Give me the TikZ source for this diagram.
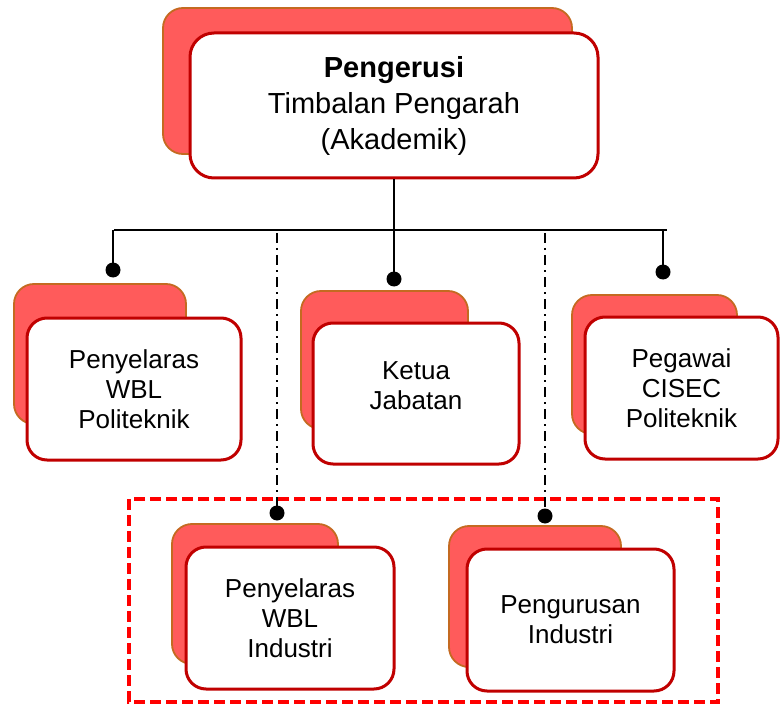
\documentclass[tikz,border=0pt]{standalone}
\usepackage{fontspec}
\setmainfont{Liberation Sans}
\usepackage{tikz}
\usetikzlibrary{positioning, calc}

\definecolor{backred}{HTML}{FF5B5B}
\definecolor{backedge}{HTML}{C46A21}
\definecolor{cardedge}{HTML}{C00000}
\definecolor{grpred}{HTML}{FF0000}

\begin{document}
\begin{tikzpicture}[
    x=1pt, y=-1pt,
    back/.style={draw=backedge, fill=backred, line width=1.8pt, rounded corners=20pt, inner sep=0pt},
    card/.style={draw=cardedge, fill=white, line width=3pt, rounded corners=20pt, inner sep=0pt, align=center, font=\fontsize{26}{30}\selectfont},
    blob/.style={circle, fill=black, inner sep=0pt, minimum size=15pt},
    link/.style={draw=black, line width=2.4pt},
    auxline/.style={draw=black, line width=2.4pt, dash pattern=on 10pt off 5pt on 2pt off 5pt},
    grp/.style={draw=grpred, line width=3.4pt, dash pattern=on 11pt off 5pt},
]
    \useasboundingbox (0,0) rectangle (780,706);

    % group of industry posts
    \draw[grp] (129,499) rectangle (718,702);

    % chairman
    \node[back, minimum width=409pt, minimum height=146pt] (topb) at (367.5,81) {};
    \node[card, rounded corners=24pt, minimum width=408pt, minimum height=145pt,
          font=\fontsize{29}{36}\selectfont] (top) at (394,105.5) {
        \textbf{Pengerusi}\\
        Timbalan Pengarah\\
        (Akademik)
    };

    % second row
    \node[back, minimum width=172pt, minimum height=140pt] (polb) at (100,354) {};
    \node[card, minimum width=214pt, minimum height=142pt] (pol) at (134,389) {
        Penyelaras\\ WBL\\ Politeknik
    };

    \node[back, minimum width=167pt, minimum height=138pt] (ketb) at (384.5,360) {};
    \node[card, minimum width=206pt, minimum height=141pt] (ket) at (416,393.5) {};
    \node[align=center, font=\fontsize{26}{30}\selectfont] (kettxt) at (416,386) {Ketua\\ Jabatan};

    \node[back, minimum width=165pt, minimum height=139pt] (cisb) at (654.5,364.5) {};
    \node[card, minimum width=193pt, minimum height=142pt] (cis) at (681.5,388) {
        Pegawai\\ CISEC\\ Politeknik
    };

    % industry row
    \node[back, minimum width=166pt, minimum height=140pt] (indb) at (255,594) {};
    \node[card, minimum width=208pt, minimum height=142pt] (ind) at (290,618) {
        Penyelaras\\ WBL\\ Industri
    };

    \node[back, minimum width=172pt, minimum height=141pt] (mgtb) at (535,596.5) {};
    \node[card, minimum width=207pt, minimum height=142pt] (mgt) at (570.5,620) {
        Pengurusan\\ Industri
    };

    % connectors
    \coordinate (hl) at (114,230);
    \coordinate (hr) at (667,230);
    \node[blob] (poldot) at (113,270) {};
    \node[blob] (ketdot) at (394,279) {};
    \node[blob] (cisdot) at (663,272) {};
    \node[blob] (inddot) at (277,513) {};
    \node[blob] (mgtdot) at (545,516) {};

    \draw[black, line width=1.8pt] (hl) -- (hr);
    \draw[link] (top.south -| ketdot) -- (ketdot.center);
    \draw[link] (poldot |- hl) -- (poldot.center);
    \draw[link] (cisdot |- hl) -- (cisdot.center);
    \draw[auxline] ($(inddot |- hl)+(0,3)$) -- (inddot.center);
    \draw[auxline] ($(mgtdot |- hl)+(0,3)$) -- (mgtdot.center);
\end{tikzpicture}
\end{document}
